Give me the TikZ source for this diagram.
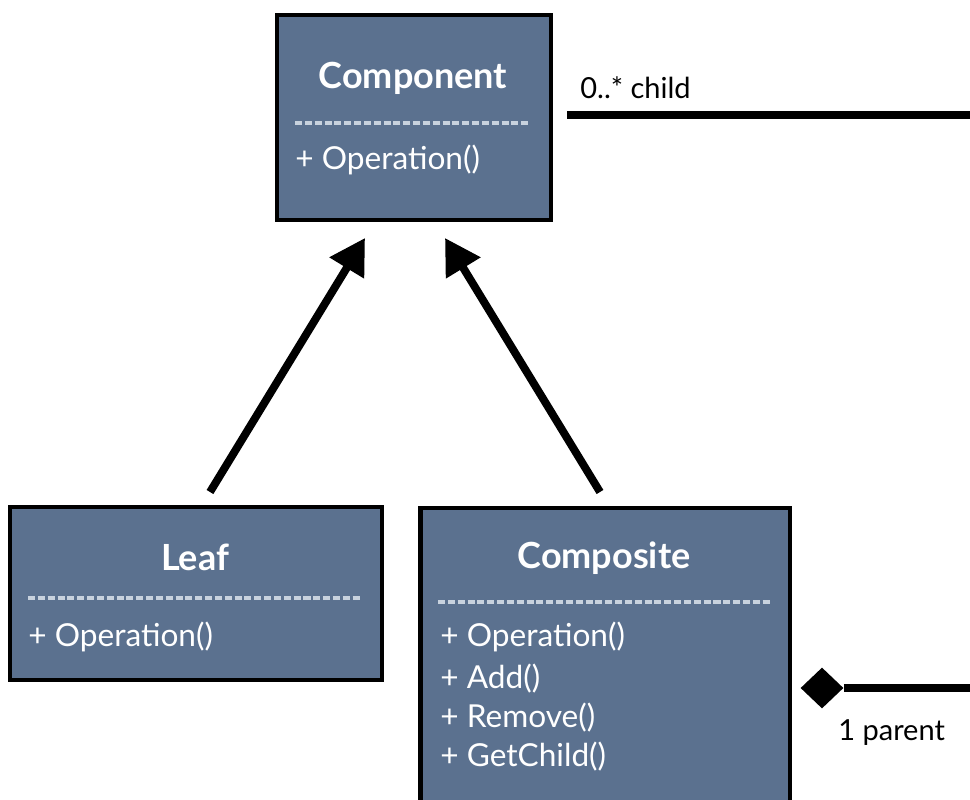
\documentclass[tikz,border=0pt]{standalone}
\usepackage{fontspec}
\setmainfont{Lato}
\usetikzlibrary{arrows.meta,shapes.geometric}
\definecolor{slate}{RGB}{91,113,143}
\definecolor{dashgray}{RGB}{200,210,222}

\begin{document}
\begin{tikzpicture}[x=0.02cm, y=-0.02cm,
    umlbox/.style={draw=black, line width=2.8pt, fill=slate, rectangle, inner sep=0pt},
    classname/.style={text=white, inner sep=0pt, font=\fontsize{20.5}{24}\selectfont\bfseries},
    member/.style={text=white, anchor=west, inner sep=0pt, font=\fontsize{18}{21}\selectfont},
    sep/.style={dashgray, line width=2pt, dash pattern=on 4pt off 1.6pt},
    gen/.style={line width=4.5pt, -{Triangle[length=20pt,width=22pt]}},
    assoc/.style={line width=4.5pt},
    rolelabel/.style={anchor=west, inner sep=0pt, font=\fontsize{16.5}{19}\selectfont}]

    \useasboundingbox (0,0) rectangle (970,800);

    % Component class
    \node[umlbox, minimum width=5.48cm, minimum height=4.1cm] (comp) at (414,117.5) {};
    \node[classname] (comp name) at (413,78) {Component};
    \draw[sep] (295,123) -- (530,123);
    \node[member] (comp op) at (295,160) {+ Operation()};

    % Leaf class
    \node[umlbox, minimum width=7.44cm, minimum height=3.46cm] (leaf) at (196,593.5) {};
    \node[classname] (leaf name) at (195,557) {Leaf};
    \draw[sep] (28,598) -- (362,598);
    \node[member] (leaf op) at (28,637) {+ Operation()};

    % Composite class
    \node[umlbox, minimum width=7.4cm, minimum height=6.1cm] (compo) at (605,660.5) {};
    \node[classname] (compo name) at (604,558) {Composite};
    \draw[sep] (438,602) -- (772,602);
    \node[member] (compo op) at (440,637) {+ Operation()};
    \node[member] (compo add) at (440,679) {+ Add()};
    \node[member] (compo rem) at (440,718) {+ Remove()};
    \node[member] (compo get) at (440,757) {+ GetChild()};

    % generalisation arrows
    \coordinate (leaf tip) at (210,492);
    \coordinate (comp left) at (365,238);
    \coordinate (compo tip) at (600,492);
    \coordinate (comp right) at (445,238);
    \draw[gen] (leaf tip) -- (comp left);
    \draw[gen] (compo tip) -- (comp right);

    % child association
    \coordinate (child start) at (567,115);
    \coordinate (child end) at (972,115);
    \draw[assoc] (child start) -- (child end);
    \node[rolelabel] (child lbl) at (580,88) {0..* child};

    % parent aggregation
    \node[diamond, fill=black, inner sep=0pt, minimum width=0.86cm, minimum height=0.82cm] (agg) at (822,688) {};
    \coordinate (parent end) at (972,688);
    \draw[assoc] (agg.east) -- (parent end);
    \node[rolelabel] (parent lbl) at (838,733) {1 parent};

\end{tikzpicture}
\end{document}
